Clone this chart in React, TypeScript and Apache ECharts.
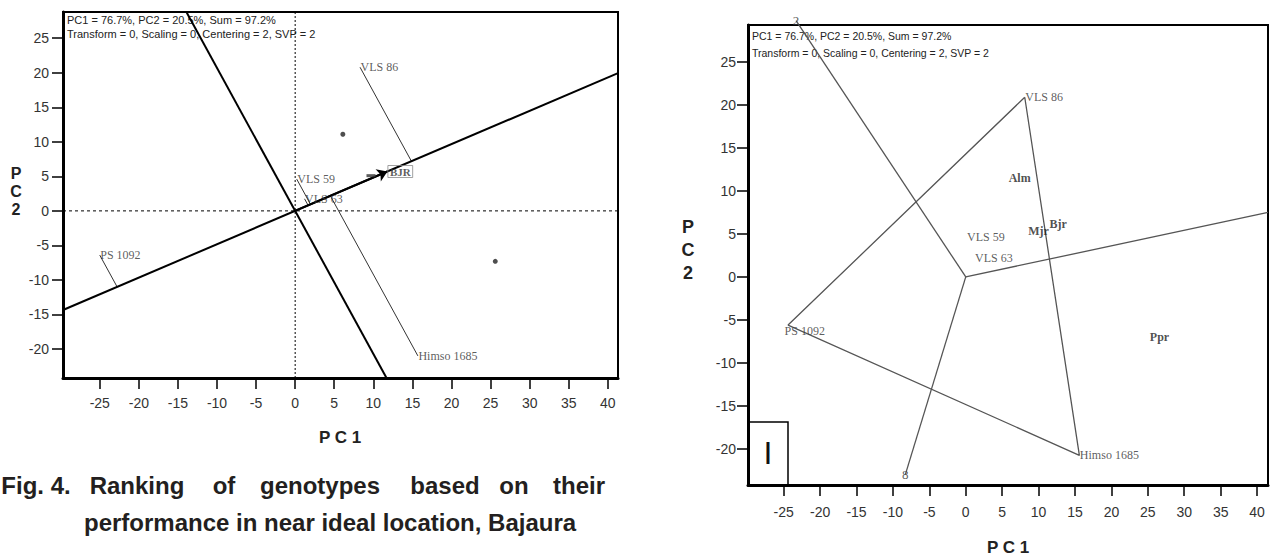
import React, { useEffect, useRef } from "react";
import * as echarts from "echarts";

// ---------- shared ticks ----------
const xTicks = [-25, -20, -15, -10, -5, 0, 5, 10, 15, 20, 25, 30, 35, 40];
const yTicks = [-20, -15, -10, -5, 0, 5, 10, 15, 20, 25];

// ---------- left panel: ranking of genotypes ----------
const leftXRange = [-29.7, 41.3];
const leftYRange = [-24.2, 28.8];
const leftGenotypes = ["VLS 86", "VLS 59", "VLS 63", "PS 1092", "Himso 1685"];
const leftGenoX = [8.3, 0.2, 1.2, -25.0, 15.7];
const leftGenoY = [20.8, 4.6, 1.75, -6.4, -21.0];
const idealEnvName = "BJR";
const idealEnv = [11.8, 5.7];
const leftEnvX = [6.1, 25.6];
const leftEnvY = [11.1, -7.3];
const leftMjr = [9.7, 5.1];
const leftInfo = [
  "PC1 = 76.7%, PC2 = 20.5%, Sum = 97.2%",
  "Transform = 0, Scaling = 0, Centering = 2, SVP = 2",
];

// ---------- right panel: which-won-where polygon ----------
const rightXRange = [-29.9, 41.5];
const rightYRange = [-24.2, 29.3];
const rightGenotypes = ["VLS 86", "PS 1092", "Himso 1685", "VLS 59", "VLS 63"];
const rightGenoX = [8.1, -24.4, 15.6, 0.1, 1.2];
const rightGenoY = [20.9, -5.6, -20.75, 4.7, 2.15];
const polygonOrder = ["VLS 86", "PS 1092", "Himso 1685", "VLS 86"];
const envNames = ["Alm", "Mjr", "Bjr", "Ppr"];
const envX = [7.4, 10.0, 12.7, 26.6];
const envY = [11.5, 5.3, 6.2, -7.0];
const rayEndX = [-23.3, 41.5, -8.3];
const rayEndY = [29.8, 7.5, -23.0];
const rayLabels = ["2", "", "8"];

// caption words with the centre of each word on line 1
const caption1 = [
  ["Fig. 4.", 36],
  ["Ranking", 137],
  ["of", 224],
  ["genotypes", 320],
  ["based", 445],
  ["on", 514],
  ["their", 579],
];
const caption2 = "performance in near ideal location, Bajaura";

const SANS = "'Liberation Sans', Arial, sans-serif";
const SERIF = "'Liberation Serif', 'Times New Roman', serif";
const LABEL_GREY = "#333333";

function makeAxes(gridIndex: number, xr: number[], yr: number[], xMargin: number, yMargin: number) {
  const common = {
    gridIndex,
    type: "value" as const,
    splitLine: { show: false },
    axisLine: { show: true, onZero: false, lineStyle: { color: "#000", width: 3 } },
  };
  const x = {
    ...common,
    min: xr[0],
    max: xr[1],
    axisTick: { show: true, customValues: xTicks, length: 11, lineStyle: { color: "#000", width: 1.5 } },
    axisLabel: { show: true, customValues: xTicks, margin: xMargin, fontSize: 14, color: "#333", fontFamily: SANS },
  };
  const y = {
    ...common,
    min: yr[0],
    max: yr[1],
    axisTick: { show: true, customValues: yTicks, length: 11, lineStyle: { color: "#000", width: 1.5 } },
    axisLabel: { show: true, customValues: yTicks, margin: yMargin, fontSize: 14, color: "#333", fontFamily: SANS },
  };
  return { x, y };
}

export default function App() {
  const ref = useRef<HTMLDivElement>(null);

  useEffect(() => {
    document.body.style.margin = "0";
    if (!ref.current) return;
    const chart = echarts.init(ref.current, undefined, { renderer: "svg" });

    const slope = idealEnv[1] / idealEnv[0];
    const foot = (x: number, y: number) => {
      const t = (x * idealEnv[0] + y * idealEnv[1]) / (idealEnv[0] ** 2 + idealEnv[1] ** 2);
      return [t * idealEnv[0], t * idealEnv[1]];
    };

    const L = makeAxes(0, leftXRange, leftYRange, 18, 14);
    const R = makeAxes(1, rightXRange, rightYRange, 20, 12);

    const geoLabel = (extra: any = {}) => ({
      show: true,
      position: "right",
      distance: 0,
      formatter: "{b}",
      fontFamily: SERIF,
      fontSize: 12,
      color: LABEL_GREY,
      textBorderWidth: 0,
      textBorderColor: "transparent",
      ...extra,
    });

    const leftGeno = leftGenotypes.map((n, i) => ({
      name: n,
      value: [leftGenoX[i], leftGenoY[i]],
      label: geoLabel(),
    }));
    const rightGeno = rightGenotypes.map((n, i) => ({
      name: n,
      value: [rightGenoX[i], rightGenoY[i]],
      label: geoLabel(n === "PS 1092" ? { offset: [-4, 6] } : {}),
    }));
    const rgMap: Record<string, number[]> = {};
    rightGenotypes.forEach((n, i) => (rgMap[n] = [rightGenoX[i], rightGenoY[i]]));

    const dash = (xi: number, data: number[][], type: any) => ({
      type: "line",
      xAxisIndex: xi,
      yAxisIndex: xi,
      data,
      symbol: "none",
      silent: true,
      lineStyle: { color: "#000", width: 1, type },
      z: 1,
    });

    const option: any = {
      animation: false,
      color: ["#333333"],
      grid: [
        { left: 63, top: 12, width: 555, height: 366, show: true, borderColor: "#000", borderWidth: 2 },
        { left: 748, top: 25, width: 520, height: 460, show: true, borderColor: "#000", borderWidth: 2 },
      ],
      xAxis: [L.x, R.x],
      yAxis: [L.y, R.y],
      series: [
        // ---- left ----
        dash(0, [[leftXRange[0], 0], [leftXRange[1], 0]], [3, 3]),
        dash(0, [[0, leftYRange[0]], [0, leftYRange[1]]], [2, 2]),
        {
          type: "line",
          xAxisIndex: 0,
          yAxisIndex: 0,
          symbol: "none",
          data: [[leftXRange[0], slope * leftXRange[0]], [leftXRange[1], slope * leftXRange[1]]],
          lineStyle: { color: "#000", width: 2 },
          z: 3,
        },
        {
          type: "line",
          xAxisIndex: 0,
          yAxisIndex: 0,
          symbol: "none",
          data: [[-slope * leftYRange[1], leftYRange[1]], [-slope * leftYRange[0], leftYRange[0]]],
          lineStyle: { color: "#000", width: 2 },
          z: 3,
        },
        {
          type: "lines",
          coordinateSystem: "cartesian2d",
          xAxisIndex: 0,
          yAxisIndex: 0,
          symbol: "none",
          lineStyle: { color: "#333", width: 1, opacity: 1 },
          data: leftGenoX.map((x, i) => ({ coords: [[x, leftGenoY[i]], foot(x, leftGenoY[i])] })),
          z: 2,
        },
        {
          type: "lines",
          coordinateSystem: "cartesian2d",
          xAxisIndex: 0,
          yAxisIndex: 0,
          symbol: ["none", "arrow"],
          symbolSize: [0, 10],
          lineStyle: { color: "#000", width: 2, opacity: 1 },
          data: [{ coords: [[0, 0], idealEnv] }],
          z: 4,
        },
        {
          type: "scatter",
          xAxisIndex: 0,
          yAxisIndex: 0,
          symbolSize: 1,
          itemStyle: { color: "rgba(255,255,255,0)" },
          data: leftGeno,
          label: geoLabel(),
          z: 5,
        },
        {
          type: "scatter",
          xAxisIndex: 0,
          yAxisIndex: 0,
          symbolSize: 1,
          itemStyle: { color: "rgba(255,255,255,0)" },
          data: [{ name: idealEnvName, value: idealEnv }],
          label: geoLabel({
            fontWeight: "bold",
            fontSize: 11,
            borderColor: "#888",
            borderWidth: 1,
            padding: [1, 2, 0, 2],
          }),
          z: 5,
        },
        {
          type: "scatter",
          xAxisIndex: 0,
          yAxisIndex: 0,
          symbol: "circle",
          symbolSize: 5,
          itemStyle: { color: "#222" },
          data: leftEnvX.map((x, i) => [x, leftEnvY[i]]),
          z: 5,
        },
        {
          type: "scatter",
          xAxisIndex: 0,
          yAxisIndex: 0,
          symbol: "rect",
          symbolSize: [9, 3],
          itemStyle: { color: "#333" },
          data: [leftMjr],
          z: 5,
        },
        // ---- right ----
        {
          type: "line",
          xAxisIndex: 1,
          yAxisIndex: 1,
          symbol: "none",
          data: polygonOrder.map((n) => rgMap[n]),
          lineStyle: { color: "#555", width: 1.3 },
          z: 2,
        },
        {
          type: "lines",
          coordinateSystem: "cartesian2d",
          xAxisIndex: 1,
          yAxisIndex: 1,
          symbol: "none",
          clip: false,
          lineStyle: { color: "#555", width: 1.3, opacity: 1 },
          data: rayEndX.map((x, i) => ({ coords: [[0, 0], [x, rayEndY[i]]] })),
          z: 2,
        },
        {
          type: "scatter",
          xAxisIndex: 1,
          yAxisIndex: 1,
          symbolSize: 1,
          itemStyle: { color: "rgba(255,255,255,0)" },
          data: rightGeno,
          label: geoLabel(),
          z: 5,
        },
        {
          type: "scatter",
          xAxisIndex: 1,
          yAxisIndex: 1,
          symbolSize: 1,
          itemStyle: { color: "rgba(255,255,255,0)" },
          data: envNames.map((n, i) => ({ name: n, value: [envX[i], envY[i]] })),
          label: geoLabel({ position: "inside", fontWeight: "bold", color: "#222" }),
          z: 5,
        },
        {
          type: "scatter",
          xAxisIndex: 1,
          yAxisIndex: 1,
          symbolSize: 1,
          clip: false,
          itemStyle: { color: "rgba(255,255,255,0)" },
          data: rayLabels
            .map((n, i) => ({ name: n, value: [rayEndX[i], rayEndY[i]] }))
            .filter((d) => d.name !== ""),
          label: geoLabel({ position: "inside", fontSize: 13 }),
          z: 5,
        },
      ],
      graphic: [
        // left info
        {
          type: "text",
          x: 67,
          y: 20,
          style: { text: leftInfo[0], font: `11px ${SANS}`, fill: "#222", textVerticalAlign: "middle" },
        },
        {
          type: "text",
          x: 67,
          y: 34,
          style: { text: leftInfo[1], font: `11px ${SANS}`, fill: "#222", textVerticalAlign: "middle" },
        },
        // right info
        {
          type: "text",
          x: 752,
          y: 36,
          style: { text: leftInfo[0], font: `10.5px ${SANS}`, fill: "#222", textVerticalAlign: "middle" },
        },
        {
          type: "text",
          x: 752,
          y: 53,
          style: { text: leftInfo[1], font: `10.5px ${SANS}`, fill: "#222", textVerticalAlign: "middle" },
        },
        // axis names
        {
          type: "text",
          x: 16,
          y: 191,
          style: {
            text: "P\nC\n2",
            font: `bold 16px ${SANS}`,
            lineHeight: 18,
            fill: "#222",
            textAlign: "center",
            textVerticalAlign: "middle",
          },
        },
        {
          type: "text",
          x: 340,
          y: 437,
          style: { text: "P C 1", font: `bold 17px ${SANS}`, fill: "#222", textAlign: "center", textVerticalAlign: "middle" },
        },
        {
          type: "text",
          x: 688,
          y: 250,
          style: {
            text: "P\nC\n2",
            font: `bold 18px ${SANS}`,
            lineHeight: 23,
            fill: "#222",
            textAlign: "center",
            textVerticalAlign: "middle",
          },
        },
        {
          type: "text",
          x: 1008,
          y: 547,
          style: { text: "P C 1", font: `bold 17px ${SANS}`, fill: "#222", textAlign: "center", textVerticalAlign: "middle" },
        },
        // panel tag
        {
          type: "rect",
          shape: { x: 749, y: 422, width: 39, height: 63 },
          style: { fill: "none", stroke: "#000", lineWidth: 1.5 },
        },
        {
          type: "text",
          x: 768,
          y: 453,
          style: { text: "I", font: `32px ${SANS}`, fill: "#111", textAlign: "center", textVerticalAlign: "middle" },
        },
        // caption
        ...caption1.map(([w, x]) => ({
          type: "text",
          x: x as number,
          y: 485,
          style: {
            text: w as string,
            font: `bold 24px ${SANS}`,
            fill: "#231f20",
            textAlign: "center",
            textVerticalAlign: "middle",
          },
        })),
        {
          type: "text",
          x: 84,
          y: 522,
          style: { text: caption2, font: `bold 24px ${SANS}`, fill: "#231f20", textVerticalAlign: "middle" },
        },
      ],
    };

    chart.setOption(option);
    return () => chart.dispose();
  }, []);

  return <div ref={ref} style={{ width: 1273, height: 556 }} />;
}
